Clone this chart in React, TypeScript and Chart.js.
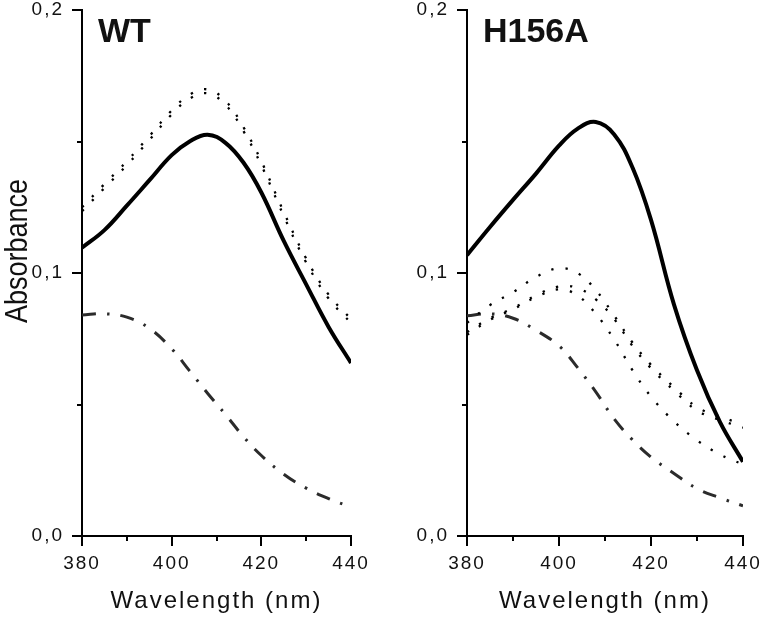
import React, { useEffect, useRef } from 'react';
import { Chart, registerables } from 'chart.js';

Chart.register(...registerables);

// ---- data ----
const WAVELENGTH = [380, 385, 390, 395, 400, 404, 408, 412, 416, 420, 425, 430, 435, 440];

const WT_SOLID = [0.1096, 0.1163, 0.1256, 0.1352, 0.1448, 0.15, 0.1526, 0.1495, 0.142, 0.1306, 0.1122, 0.0957, 0.0795, 0.0658];
const WT_DOTTED_A = [0.125, 0.1338, 0.1425, 0.152, 0.1618, 0.1678, 0.1698, 0.1655, 0.1555, 0.1425, 0.1232, 0.1055, 0.0918, 0.0825];
const WT_DOTTED_B = [0.1235, 0.1323, 0.141, 0.1505, 0.1603, 0.1663, 0.1683, 0.164, 0.154, 0.141, 0.1217, 0.104, 0.0903, 0.081];
const WT_DASHDOT = [0.084, 0.0845, 0.0832, 0.079, 0.0712, 0.0628, 0.0543, 0.0462, 0.0378, 0.0306, 0.0235, 0.0182, 0.0142, 0.011];

const H156A_SOLID = [0.1068, 0.1175, 0.1278, 0.1378, 0.1484, 0.1548, 0.1574, 0.1527, 0.14, 0.1202, 0.088, 0.063, 0.0433, 0.0282];
const H156A_DOTTED_1 = [0.081, 0.0878, 0.0927, 0.0985, 0.1018, 0.1, 0.0935, 0.0838, 0.0735, 0.0651, 0.0566, 0.049, 0.0454, 0.0425];
const H156A_DOTTED_2 = [0.0775, 0.0828, 0.0866, 0.0915, 0.0949, 0.0943, 0.09, 0.0825, 0.0722, 0.0638, 0.0553, 0.0477, 0.0441, 0.0412];
const H156A_DOTTED_3 = [0.0765, 0.0822, 0.0862, 0.0908, 0.0938, 0.0915, 0.0845, 0.0747, 0.063, 0.053, 0.0436, 0.0364, 0.031, 0.0272];
const H156A_DASHDOT = [0.0837, 0.0845, 0.0828, 0.0782, 0.0723, 0.0641, 0.0548, 0.0445, 0.0365, 0.03, 0.0238, 0.018, 0.0145, 0.0115];

const X_TICKS = [380, 390, 400, 410, 420, 430, 440];
const X_LABELS = ['380', '', '400', '', '420', '', '440'];
const Y_TICKS = [0, 0.05, 0.1, 0.15, 0.2];
const Y_LABELS = ['0,0', '', '0,1', '', '0,2'];

const PANEL_NAMES = ['WT', 'H156A'];
const X_TITLE = 'Wavelength (nm)';
const Y_TITLE = 'Absorbance';

const FONT = "'Liberation Sans', Arial, Helvetica, sans-serif";
const TEXT = '#111';

const toPoints = (ys: number[]) => WAVELENGTH.map((x, i) => ({ x, y: ys[i] }));

const solid = (data: number[]) => ({
  data: toPoints(data),
  borderColor: '#000',
  borderWidth: 4,
  pointRadius: 0,
  tension: 0.4,
  fill: false,
});
const dotted = (data: number[]) => ({
  data: toPoints(data),
  borderColor: '#000',
  borderWidth: 2.3,
  borderDash: [2.3, 12],
  borderCapStyle: 'butt' as const,
  pointRadius: 0,
  tension: 0.4,
  fill: false,
});
const dashDot = (data: number[]) => ({
  data: toPoints(data),
  borderColor: '#2b2b2b',
  borderWidth: 3,
  borderDash: [14, 11, 2.5, 11],
  borderCapStyle: 'butt' as const,
  pointRadius: 0,
  tension: 0.4,
  fill: false,
});

const decorPlugin = {
  id: 'decor',
  beforeInit(chart: any) {
    chart.ctx.letterSpacing = '2px';
  },
  beforeDraw(chart: any) {
    chart.ctx.letterSpacing = '2px';
  },
  afterDraw(chart: any, _args: any, opts: any) {
    const ctx = chart.ctx;
    const { left, top, bottom } = chart.chartArea;
    const xs = chart.scales.x;
    const ys = chart.scales.y;
    ctx.save();
    ctx.letterSpacing = '0px';
    ctx.strokeStyle = '#000';
    ctx.lineWidth = 2;
    ctx.lineCap = 'butt';
    ctx.beginPath();
    Y_TICKS.forEach((v, i) => {
      const y = Math.round(ys.getPixelForValue(v));
      const len = Y_LABELS[i] ? 10 : 5;
      ctx.moveTo(left - len, y);
      ctx.lineTo(left, y);
    });
    X_TICKS.forEach((v, i) => {
      const x = Math.round(xs.getPixelForValue(v));
      const len = X_LABELS[i] ? 10 : 5;
      ctx.moveTo(x, bottom);
      ctx.lineTo(x, bottom + len);
    });
    ctx.stroke();

    ctx.fillStyle = TEXT;
    ctx.font = `bold 34px ${FONT}`;
    ctx.textAlign = 'left';
    ctx.textBaseline = 'alphabetic';
    ctx.fillText(opts.label, left + 16, top + 32);

    if (opts.yTitle) {
      ctx.save();
      ctx.translate(27, (top + bottom) / 2 - 22);
      ctx.rotate(-Math.PI / 2);
      ctx.scale(1, 1.19);
      ctx.font = `27px ${FONT}`;
      ctx.textAlign = 'center';
      ctx.textBaseline = 'alphabetic';
      ctx.fillText(opts.yTitle, 0, 0);
      ctx.restore();
    }
    ctx.restore();
  },
};

function makeConfig(datasets: any[], label: string, yTitle: string | null, yWidth: number, padRight: number) {
  return {
    type: 'line' as const,
    data: { datasets },
    plugins: [decorPlugin],
    options: {
      responsive: false,
      maintainAspectRatio: false,
      devicePixelRatio: 1,
      animation: false as const,
      layout: { padding: { top: 10, right: padRight, left: 0, bottom: 0 } },
      plugins: {
        legend: { display: false },
        tooltip: { enabled: false },
        decor: { label, yTitle },
      },
      scales: {
        x: {
          type: 'linear' as const,
          min: 380,
          max: 440,
          afterBuildTicks: (s: any) => {
            s.ticks = X_TICKS.map((value) => ({ value }));
          },
          afterFit: (s: any) => {
            s.height = 81;
            s.paddingLeft = 0;
            s.paddingRight = 0;
          },
          grid: { display: true, color: 'rgba(0,0,0,0)', drawTicks: false, drawOnChartArea: false },
          border: { display: true, color: '#000', width: 2 },
          ticks: {
            autoSkip: false,
            maxRotation: 0,
            padding: 16,
            color: TEXT,
            font: { size: 19, family: FONT },
            callback: (_v: any, i: number) => X_LABELS[i],
          },
          title: {
            display: true,
            text: X_TITLE,
            color: TEXT,
            font: { size: 24, family: FONT },
            padding: { top: 0, bottom: 1 },
          },
        },
        y: {
          type: 'linear' as const,
          min: 0,
          max: 0.2,
          afterBuildTicks: (s: any) => {
            s.ticks = Y_TICKS.map((value) => ({ value }));
          },
          afterFit: (s: any) => {
            s.width = yWidth;
            s.paddingTop = 0;
            s.paddingBottom = 0;
          },
          grid: { display: true, color: 'rgba(0,0,0,0)', drawTicks: false, drawOnChartArea: false },
          border: { display: true, color: '#000', width: 2 },
          ticks: {
            autoSkip: false,
            padding: 18,
            color: TEXT,
            font: { size: 19, family: FONT },
            callback: (_v: any, i: number) => Y_LABELS[i],
          },
        },
      },
    },
  };
}

function Panel(props: { left: number; config: any }) {
  const ref = useRef<HTMLCanvasElement | null>(null);
  useEffect(() => {
    if (!ref.current) return;
    const chart = new Chart(ref.current, props.config);
    return () => chart.destroy();
  }, []);
  return (
    <canvas
      ref={ref}
      width={380}
      height={617}
      style={{ position: 'absolute', left: props.left, top: 0, width: 380, height: 617 }}
    />
  );
}

export default function App() {
  const wtConfig = makeConfig(
    [solid(WT_SOLID), dotted(WT_DOTTED_A), dotted(WT_DOTTED_B), dashDot(WT_DASHDOT)],
    PANEL_NAMES[0],
    Y_TITLE,
    82,
    29
  );
  const mutConfig = makeConfig(
    [solid(H156A_SOLID), dotted(H156A_DOTTED_1), dotted(H156A_DOTTED_2), dotted(H156A_DOTTED_3), dashDot(H156A_DASHDOT)],
    PANEL_NAMES[1],
    null,
    87,
    17
  );
  return (
    <div style={{ position: 'absolute', left: 0, top: 0, width: 760, height: 617, background: '#fff', overflow: 'hidden' }}>
      <Panel left={0} config={wtConfig} />
      <Panel left={380} config={mutConfig} />
    </div>
  );
}
